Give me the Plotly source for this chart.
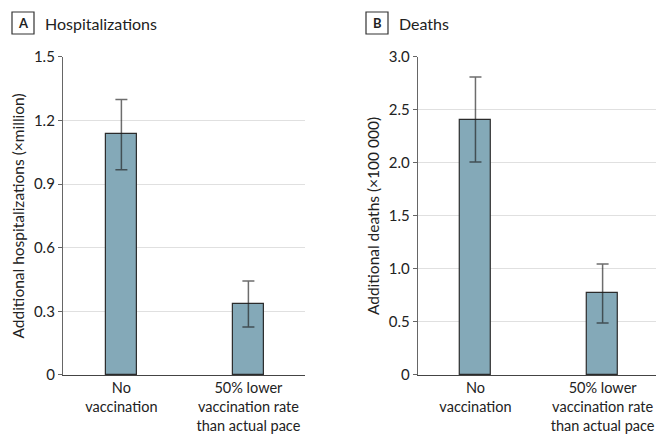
import plotly.graph_objects as go

categories = ["No<br>vaccination", "50% lower<br>vaccination rate<br>than actual pace"]
hosp = [1.135, 0.335]
hosp_hi = [1.30, 0.443]
hosp_lo = [0.968, 0.226]
deaths = [2.41, 0.77]
deaths_hi = [2.81, 1.047]
deaths_lo = [2.01, 0.49]

FONT = "Lato"
BAR = "#84A9B8"

fig = go.Figure()
xs = [0, 1]

def add(vals, hi, lo, xa, ya):
    fig.add_trace(go.Bar(
        x=xs, y=vals, width=0.245, xaxis=xa, yaxis=ya,
        marker=dict(color=BAR, line=dict(color="#2b2b2b", width=1.2)),
        error_y=dict(type="data", symmetric=False,
                     array=[h - v for h, v in zip(hi, vals)],
                     arrayminus=[v - l for v, l in zip(vals, lo)],
                     color="rgba(30,30,30,0.65)", thickness=1.5, width=6),
        showlegend=False, hoverinfo="skip"))

add(hosp, hosp_hi, hosp_lo, "x", "y")
add(deaths, deaths_hi, deaths_lo, "x2", "y2")

xcommon = dict(tickmode="array", tickvals=xs, ticktext=categories, showgrid=False,
               showline=True, linecolor="#444444", linewidth=1.2, ticks="",
               tickfont=dict(family=FONT, size=14.5, color="#222"), zeroline=False,
               automargin=False)
ycommon = dict(showgrid=True, gridcolor="#e0e0e0", gridwidth=1.2, showline=True,
               linecolor="#666666", linewidth=1.2, ticks="outside", ticklen=4,
               tickcolor="#666666", tickfont=dict(family=FONT, size=15, color="#222"),
               zeroline=False, automargin=False,
               title=dict(font=dict(family=FONT, size=15.5, color="#222"), standoff=5))

fig.update_layout(
    width=656, height=434, margin=dict(l=0, r=0, t=0, b=0),
    plot_bgcolor="white", paper_bgcolor="white", bargap=0,
    xaxis=dict(domain=[0.096, 0.465], range=[-0.46, 1.446], anchor="y", **xcommon),
    xaxis2=dict(domain=[0.637, 1.0], range=[-0.453, 1.42], anchor="y2", **xcommon),
    yaxis=dict(domain=[0.136, 0.8687], range=[0, 1.5], tickvals=[0, 0.3, 0.6, 0.9, 1.2, 1.5],
               ticktext=["0", "0.3", "0.6", "0.9", "1.2", "1.5"], anchor="x", **ycommon),
    yaxis2=dict(domain=[0.136, 0.8687], range=[0, 3.0], tickvals=[0, 0.5, 1.0, 1.5, 2.0, 2.5, 3.0],
                ticktext=["0", "0.5", "1.0", "1.5", "2.0", "2.5", "3.0"], anchor="x2", **ycommon),
)
fig.layout.yaxis.title.text = "Additional hospitalizations (×million)"
fig.layout.yaxis2.title.text = "Additional deaths (×100 000)"

for lx, letter, title in [(12, "A", "Hospitalizations"), (366, "B", "Deaths")]:
    fig.add_shape(type="rect", xref="paper", yref="paper",
                  x0=lx / 656, x1=(lx + 22) / 656, y0=1 - 34 / 434, y1=1 - 12 / 434,
                  line=dict(color="#333333", width=1.2))
    fig.add_annotation(x=(lx + 11) / 656, y=1 - 23 / 434, xref="paper", yref="paper",
                       text="<b>" + letter + "</b>", showarrow=False,
                       font=dict(family=FONT, size=13, color="#222"), xanchor="center", yanchor="middle")
    fig.add_annotation(x=(lx + 31) / 656, y=1 - 23 / 434, xref="paper", yref="paper",
                       text=title, showarrow=False,
                       font=dict(family=FONT, size=16, color="#222"), xanchor="left", yanchor="middle")

fig.write_html("out.html", config={"displayModeBar": False},
               post_script="document.body.style.margin='0';document.body.style.overflow='hidden';")
